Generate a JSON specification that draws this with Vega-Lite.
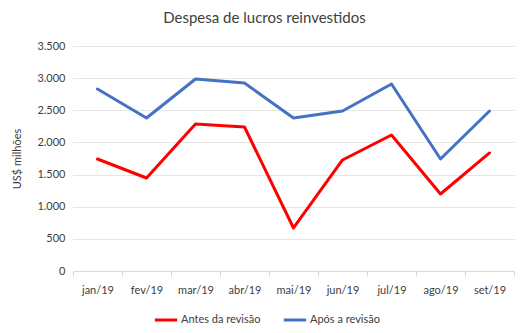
{
  "$schema": "https://vega.github.io/schema/vega-lite/v6.json",
  "width": 441,
  "height": 225,
  "autosize": {"type": "none"},
  "padding": {"left": 73, "top": 46, "right": 15, "bottom": 62},
  "background": "white",
  "title": {
    "text": "Despesa de lucros reinvestidos",
    "font": "Lato",
    "fontSize": 15,
    "fontWeight": "normal",
    "color": "#404040",
    "anchor": "middle",
    "dx": -29,
    "offset": 14
  },
  "config": {
    "view": {"stroke": null},
    "font": "Lato"
  },
  "data": {
    "values": [
      {"mes": "jan/19", "serie": "Antes da revisão", "valor": 1742},
      {"mes": "fev/19", "serie": "Antes da revisão", "valor": 1447},
      {"mes": "mar/19", "serie": "Antes da revisão", "valor": 2287},
      {"mes": "abr/19", "serie": "Antes da revisão", "valor": 2240},
      {"mes": "mai/19", "serie": "Antes da revisão", "valor": 669},
      {"mes": "jun/19", "serie": "Antes da revisão", "valor": 1727},
      {"mes": "jul/19", "serie": "Antes da revisão", "valor": 2116},
      {"mes": "ago/19", "serie": "Antes da revisão", "valor": 1198},
      {"mes": "set/19", "serie": "Antes da revisão", "valor": 1836},
      {"mes": "jan/19", "serie": "Após a revisão", "valor": 2831},
      {"mes": "fev/19", "serie": "Após a revisão", "valor": 2380},
      {"mes": "mar/19", "serie": "Após a revisão", "valor": 2987},
      {"mes": "abr/19", "serie": "Após a revisão", "valor": 2924},
      {"mes": "mai/19", "serie": "Após a revisão", "valor": 2380},
      {"mes": "jun/19", "serie": "Após a revisão", "valor": 2489},
      {"mes": "jul/19", "serie": "Após a revisão", "valor": 2909},
      {"mes": "ago/19", "serie": "Após a revisão", "valor": 1742},
      {"mes": "set/19", "serie": "Após a revisão", "valor": 2489}
    ]
  },
  "mark": {"type": "line", "strokeWidth": 3, "strokeCap": "round", "strokeJoin": "round"},
  "encoding": {
    "x": {
      "field": "mes",
      "type": "ordinal",
      "sort": null,
      "bandPosition": 0.5,
      "scale": {"type": "band", "paddingInner": 0, "paddingOuter": 0},
      "axis": {
        "title": null,
        "labelAngle": 0,
        "labelFontSize": 11,
        "labelColor": "#404040",
        "labelPadding": 8,
        "domainColor": "#d9d9d9",
        "tickColor": "#d9d9d9",
        "tickBand": "extent",
        "tickSize": 5,
        "grid": false
      }
    },
    "y": {
      "field": "valor",
      "type": "quantitative",
      "scale": {"domain": [0, 3500]},
      "axis": {
        "title": "US$ milhões",
        "titleFont": "Lato",
        "titleFontSize": 11,
        "titleFontWeight": "normal",
        "titleColor": "#404040",
        "titlePadding": 14,
        "values": [0, 500, 1000, 1500, 2000, 2500, 3000, 3500],
        "labelExpr": "replace(format(datum.value, ','), ',', '.')",
        "labelFontSize": 11,
        "labelColor": "#404040",
        "labelPadding": 8,
        "domain": false,
        "ticks": false,
        "gridColor": "#cccccc",
        "gridDash": [1, 1]
      }
    },
    "color": {
      "field": "serie",
      "type": "nominal",
      "scale": {"domain": ["Antes da revisão", "Após a revisão"], "range": ["#ff0000", "#4472c4"]},
      "legend": {
        "title": null,
        "orient": "none",
        "direction": "horizontal",
        "legendX": 80,
        "legendY": 261,
        "symbolType": "stroke",
        "symbolStrokeWidth": 3,
        "symbolSize": 500,
        "labelFontSize": 11,
        "labelColor": "#404040",
        "columnPadding": 16,
        "labelOffset": 2
      }
    }
  }
}
